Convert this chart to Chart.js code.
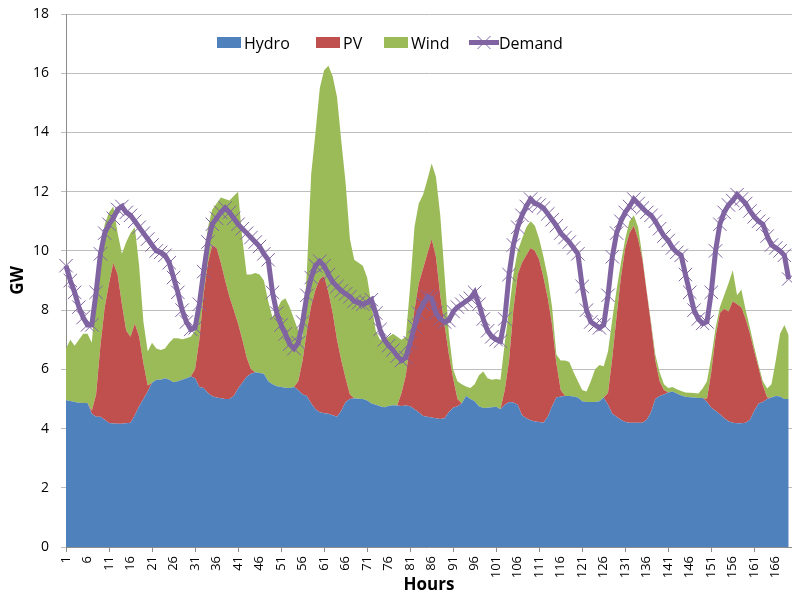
<!DOCTYPE html>
<html>
<head>
<meta charset="utf-8">
<title>Hourly generation mix and demand</title>
<script src="https://cdn.jsdelivr.net/npm/chart.js@4.4.0/dist/chart.umd.min.js"></script>
<style>
  html, body { margin: 0; padding: 0; background: #ffffff; }
  #wrap { width: 792px; height: 597px; }
</style>
</head>
<body>
<div id="wrap"><canvas id="chart" width="792" height="597"></canvas></div>
<script>
// Hour index of the week
const hours = Array.from({ length: 169 }, (_, i) => i + 1);

// Labelled hours on the horizontal axis
const tickHours = [1, 6, 11, 16, 21, 26, 31, 36, 41, 46, 51, 56, 61, 66, 71, 76, 81, 86,
  91, 96, 101, 106, 111, 116, 121, 126, 131, 136, 141, 146, 151, 156, 161, 166];

const seriesNames = ['Hydro', 'PV', 'Wind', 'Demand'];

// Generation by source, GW
const hydro = [
  4.95, 4.93, 4.9, 4.87, 4.86, 4.86, 4.5, 4.4, 4.4, 4.3,
  4.19, 4.17, 4.16, 4.16, 4.18, 4.2, 4.45, 4.75, 5.0, 5.25,
  5.55, 5.65, 5.65, 5.7, 5.65, 5.56, 5.6, 5.65, 5.7, 5.76,
  5.7, 5.4, 5.37, 5.2, 5.09, 5.05, 5.02, 5.0, 5.0, 5.1,
  5.35, 5.55, 5.75, 5.85, 5.9, 5.88, 5.85, 5.6, 5.5, 5.43,
  5.4, 5.38, 5.37, 5.4, 5.3, 5.15, 5.1, 4.85, 4.65, 4.55,
  4.52, 4.5, 4.45, 4.4, 4.6, 4.9, 5.0, 5.02, 5.01,
  5.0, 4.95, 4.85, 4.8, 4.75, 4.72, 4.76, 4.79, 4.78, 4.76,
  4.78, 4.75, 4.65, 4.55, 4.42, 4.4, 4.37, 4.35, 4.32, 4.35,
  4.55, 4.7, 4.75, 4.85, 5.1, 5.0, 4.92, 4.75, 4.69, 4.7,
  4.72, 4.74, 4.65, 4.8, 4.9, 4.88, 4.8, 4.45, 4.35, 4.28,
  4.24, 4.22, 4.2, 4.4, 4.75, 5.05, 5.08, 5.1, 5.1, 5.08,
  5.05, 4.92, 4.9, 4.9, 4.9, 4.92, 5.05, 4.8, 4.5, 4.4,
  4.3, 4.22, 4.2, 4.2, 4.2, 4.2, 4.3, 4.55, 5.0, 5.1,
  5.15, 5.22, 5.25, 5.18, 5.12, 5.07, 5.06, 5.05, 5.03, 5.03,
  4.9, 4.7, 4.6, 4.48, 4.35, 4.25, 4.2, 4.18, 4.18, 4.2,
  4.3, 4.6, 4.85, 4.9, 5.0, 5.05, 5.1, 5.08, 5.0, 5.0
];

const pv = [
  0, 0, 0, 0, 0, 0, 0.1, 0.75, 2.4, 3.8,
  4.71, 5.43, 5.04, 4.04, 3.12, 2.9, 3.1, 2.35, 1.2, 0.2,
  0, 0, 0, 0, 0, 0, 0, 0, 0, 0,
  0.3, 1.6, 3.18, 4.4, 5.11, 5.05, 4.58, 4.0, 3.45, 2.9,
  2.2, 1.45, 0.65, 0.15, 0, 0, 0, 0, 0, 0,
  0, 0, 0, 0, 0.3, 1.15, 2.2, 3.3, 4.05, 4.5,
  4.63, 4.1, 3.45, 2.6, 1.7, 0.8, 0.15, 0, 0,
  0, 0, 0, 0, 0, 0, 0, 0, 0, 0.44,
  1.02, 2.15, 3.35, 4.35, 4.98, 5.5, 6.03, 5.45, 4.18, 3.15,
  1.95, 1.0, 0.25, 0, 0, 0, 0, 0, 0, 0,
  0, 0, 0, 0.5, 1.4, 3.12, 4.4, 5.15, 5.5, 5.82,
  5.76, 5.48, 4.9, 4.0, 2.75, 1.15, 0.22, 0, 0, 0,
  0, 0, 0, 0, 0, 0, 0, 0.4, 1.9, 3.4,
  4.8, 5.88, 6.4, 6.65, 6.2, 5.5, 4.3, 2.95, 1.3, 0.5,
  0.15, 0, 0, 0, 0, 0, 0, 0, 0, 0,
  0.1, 1.2, 2.5, 3.42, 3.7, 3.7, 4.1, 4.02, 3.92, 3.5,
  2.9, 2.0, 1.2, 0.55, 0.05, 0, 0, 0, 0, 0
];

const wind = [
  1.75, 2.07, 1.9, 2.13, 2.34, 2.34, 2.3, 3.45, 3.1, 2.8,
  2.4, 1.9, 1.4, 1.7, 3.0, 3.5, 3.25, 2.4, 1.4, 1.15,
  1.35, 1.05, 1.0, 1.0, 1.25, 1.49, 1.45, 1.37, 1.35, 1.34,
  1.3, 1.3, 1.15, 1.2, 1.2, 1.5, 2.2, 2.75, 3.25, 3.85,
  4.45, 3.4, 2.8, 3.2, 3.35, 3.32, 3.15, 2.7, 2.25, 2.57,
  2.9, 3.02, 2.73, 2.3, 1.7, 0.8, 2.0, 4.45, 5.3, 6.45,
  6.95, 7.65, 8.0, 8.2, 7.4, 6.6, 5.25, 4.68, 4.59,
  4.5, 4.15, 3.35, 2.5, 2.25, 2.28, 2.34, 2.41, 2.32, 1.8,
  1.3, 1.9, 2.8, 2.7, 2.5, 2.5, 2.55, 2.7, 2.7, 1.7,
  0.7, 0.3, 0.6, 0.65, 0.32, 0.37, 0.58, 1.05, 1.24, 1.0,
  0.93, 0.93, 1.0, 1.6, 1.7, 1.2, 0.8, 0.8, 0.95, 0.9,
  0.85, 0.7, 0.7, 0.7, 0.6, 0.3, 1.0, 1.2, 1.15, 0.82,
  0.55, 0.38, 0.35, 0.7, 1.1, 1.23, 1.05, 1.4, 1.3, 0.9,
  0.5, 0.3, 0.4, 0.35, 0.4, 0.1, 0.05, 0.1, 0.2, 0.3,
  0.2, 0.15, 0.15, 0.15, 0.15, 0.15, 0.15, 0.15, 0.15, 0.32,
  0.6, 0.5, 0.3, 0.2, 0.45, 0.95, 1.05, 0.3, 0.6, 0.3,
  0.2, 0.15, 0.1, 0.15, 0.3, 0.45, 1.2, 2.12, 2.5, 2.15
];

// Load, GW
const demand = [
  9.5, 9.0, 8.6, 8.1, 7.75, 7.5, 7.5, 8.6, 9.9, 10.6,
  10.9, 11.1, 11.4, 11.5, 11.3, 11.2, 11.0, 10.8, 10.6, 10.4,
  10.2, 10.0, 9.95, 9.85, 9.6, 9.1, 8.6, 8.0, 7.6, 7.35,
  7.4, 8.2, 9.3, 10.3, 10.9, 11.1, 11.3, 11.45, 11.3, 11.1,
  10.9, 10.75, 10.6, 10.45, 10.3, 10.15, 9.9, 9.7, 8.6, 7.9,
  7.5, 7.2, 6.85, 6.7, 6.9, 7.6, 8.5, 9.1, 9.5, 9.65,
  9.5, 9.2, 8.95, 8.8, 8.65, 8.55, 8.45, 8.3, 8.25,
  8.2, 8.25, 8.35, 7.9, 7.35, 7.0, 6.8, 6.65, 6.45, 6.3,
  6.4, 6.9, 7.45, 7.9, 8.2, 8.45, 8.4, 7.9, 7.7, 7.6,
  7.65, 7.95, 8.1, 8.2, 8.3, 8.4, 8.6, 8.2, 7.7, 7.3,
  7.1, 7.0, 6.95, 7.7, 9.2, 10.2, 10.8, 11.2, 11.5, 11.75,
  11.6, 11.55, 11.45, 11.25, 11.05, 10.85, 10.6, 10.45, 10.3, 10.1,
  9.9, 8.8, 8.0, 7.6, 7.5, 7.4, 7.5, 8.5, 9.8, 10.6,
  11.0, 11.3, 11.5, 11.75, 11.6, 11.45, 11.3, 11.2, 11.0, 10.75,
  10.5, 10.35, 10.1, 9.95, 9.85, 9.2, 8.6, 8.0, 7.7, 7.55,
  7.6, 8.6, 10.0, 10.9, 11.3, 11.55, 11.7, 11.9, 11.75, 11.6,
  11.35, 11.15, 11.0, 10.9, 10.5, 10.2, 10.1, 10.0, 9.85, 9.05
];

const colors = { hydro: '#4F81BD', pv: '#C0504D', wind: '#9BBB59', demand: '#8064A2' };
const FONT = '"Open Sans", "DejaVu Sans", sans-serif';

const toPoints = (values) => hours.map((h, i) => ({ x: h, y: values[i] }));

function areaSet(label, values, color, fill) {
  return {
    label: label,
    data: toPoints(values),
    backgroundColor: color,
    borderColor: 'rgba(0,0,0,0)',
    borderWidth: 0,
    pointRadius: 0,
    fill: fill,
    tension: 0,
    stack: 'supply',
    order: 1
  };
}

// Legend drawn across the top of the plot area
const inlineLegend = {
  id: 'inlineLegend',
  afterDraw(chart) {
    const ctx = chart.ctx;
    const swatches = [colors.hydro, colors.pv, colors.wind];
    const itemX = [217, 316, 384, 469];
    ctx.save();
    ctx.font = '16px ' + FONT;
    ctx.textBaseline = 'alphabetic';
    ctx.textAlign = 'left';
    for (let i = 0; i < 3; i++) {
      ctx.fillStyle = swatches[i];
      ctx.fillRect(itemX[i], 37, 24, 11);
      ctx.fillStyle = '#000000';
      ctx.fillText(seriesNames[i], itemX[i] + 27, 48.5);
    }
    // Demand: line with an X marker
    const x0 = itemX[3], cy = 42.5;
    ctx.strokeStyle = colors.demand;
    ctx.lineWidth = 5;
    ctx.beginPath();
    ctx.moveTo(x0, cy);
    ctx.lineTo(x0 + 30, cy);
    ctx.stroke();
    ctx.lineWidth = 1;
    const cx = x0 + 15, r = 6.5;
    ctx.beginPath();
    ctx.moveTo(cx - r, cy - r); ctx.lineTo(cx + r, cy + r);
    ctx.moveTo(cx - r, cy + r); ctx.lineTo(cx + r, cy - r);
    ctx.stroke();
    ctx.fillStyle = '#000000';
    ctx.fillText(seriesNames[3], x0 + 30, 48.5);
    ctx.restore();
  }
};

new Chart(document.getElementById('chart'), {
  type: 'line',
  data: {
    datasets: [
      areaSet(seriesNames[0], hydro, colors.hydro, 'origin'),
      areaSet(seriesNames[1], pv, colors.pv, '-1'),
      areaSet(seriesNames[2], wind, colors.wind, '-1'),
      {
        label: seriesNames[3],
        data: toPoints(demand),
        borderColor: colors.demand,
        borderWidth: 5,
        backgroundColor: colors.demand,
        fill: false,
        tension: 0,
        pointStyle: 'crossRot',
        pointRadius: 9.5,
        pointBorderWidth: 1,
        pointBorderColor: colors.demand,
        stack: 'load',
        order: 0,
        clip: 12
      }
    ]
  },
  options: {
    responsive: false,
    animation: false,
    devicePixelRatio: 1,
    events: [],
    layout: { autoPadding: false, padding: { top: 14, right: 0, bottom: 0, left: 0 } },
    plugins: {
      legend: { display: false },
      tooltip: { enabled: false }
    },
    scales: {
      x: {
        type: 'linear',
        min: 1,
        max: 169.77,
        afterBuildTicks: (scale) => { scale.ticks = tickHours.map(v => ({ value: v })); },
        afterFit: (scale) => {
          scale.height = 50;
          scale.paddingLeft = 0;
          scale.paddingRight = 0;
        },
        grid: {
          drawOnChartArea: false,
          drawTicks: true,
          tickLength: 5,
          color: (ctx) => (ctx.tick && (ctx.tick.value - 1) % 10 === 0) ? '#8C8C8C' : 'rgba(0,0,0,0)'
        },
        border: { display: true, color: '#8C8C8C' },
        ticks: {
          autoSkip: false,
          minRotation: 90,
          maxRotation: 90,
          padding: 4,
          color: '#000000',
          font: { family: FONT, size: 13 }
        },
        title: {
          display: true,
          text: 'Hours',
          color: '#000000',
          font: { family: FONT, size: 17, weight: 'bold' },
          padding: { top: 0, bottom: 2 }
        }
      },
      y: {
        stacked: true,
        min: 0,
        max: 18,
        afterFit: (scale) => {
          scale.width = 66;
          scale.paddingTop = 0;
          scale.paddingBottom = 0;
        },
        grid: { color: '#BEBEBE', tickLength: 5 },
        border: { display: true, color: '#8C8C8C' },
        ticks: {
          stepSize: 2,
          padding: 12,
          color: '#000000',
          font: { family: FONT, size: 14 }
        },
        title: {
          display: true,
          text: 'GW',
          color: '#000000',
          font: { family: FONT, size: 17, weight: 'bold' },
          padding: { top: 8, bottom: 0 }
        }
      }
    }
  },
  plugins: [inlineLegend]
});
</script>
</body>
</html>
